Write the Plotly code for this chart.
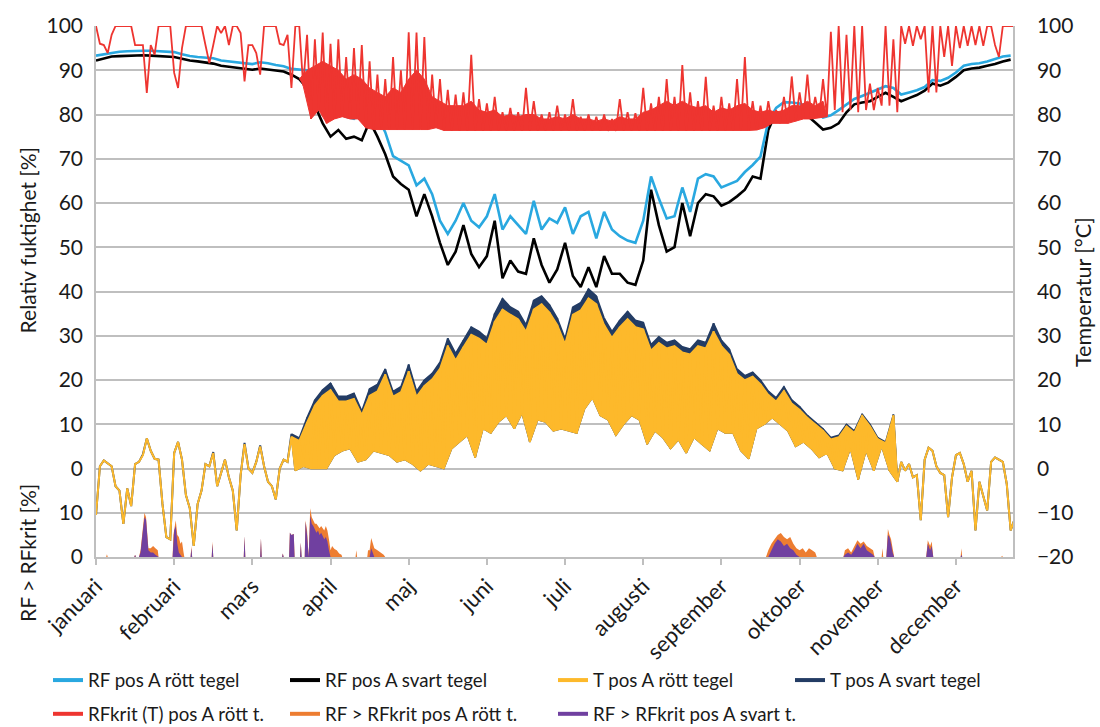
import plotly.graph_objects as go

# ---------------- data ----------------
months = ["januari", "februari", "mars", "april", "maj", "juni", "juli",
          "augusti", "september", "oktober", "november", "december"]
X_END = 11.73          # end of the record, in month units
STEP = 0.1             # sampling step of the series below, in months

# Relative humidity [%], one value per step
rf_rott = [93.3, 93.6, 94.0, 94.2, 94.3, 94.4, 94.4, 94.4, 94.3, 94.2,
           94.1, 93.6, 93.2, 93.0, 92.9, 92.7, 92.2, 92.0, 91.8, 91.6,
           91.4, 91.8, 91.6, 91.2, 90.9, 90.3, 90.1, 90.0, 88.5, 86.0,
           82.0, 80.5, 79.5, 79.0, 80.5, 81.5, 79.5, 76.0, 70.6, 69.5,
           68.5, 64.0, 65.5, 62.0, 56.0, 53.0, 56.0, 60.0, 56.0, 54.5,
           57.0, 62.0, 54.0, 57.0, 55.0, 53.0, 60.5, 54.0, 56.5, 55.5,
           59.0, 53.0, 57.0, 58.0, 52.0, 58.0, 54.0, 52.5, 51.5, 51.0,
           56.0, 66.0, 61.0, 56.5, 57.0, 63.5, 58.0, 65.5, 66.5, 66.0,
           63.5, 64.2, 65.0, 67.0, 68.6, 70.5, 78.5, 81.5, 82.8, 82.7,
           82.5, 81.8, 80.7, 79.3, 79.8, 81.0, 82.3, 83.5, 84.2, 84.9,
           85.7, 86.4, 86.0, 84.5, 85.0, 85.5, 86.2, 87.8, 87.6, 88.3,
           89.5, 91.0, 91.4, 91.6, 92.0, 92.5, 93.1, 93.3]

rf_svart = [92.2, 92.6, 93.1, 93.2, 93.3, 93.3, 93.4, 93.3, 93.2, 93.1,
            93.0, 92.6, 92.2, 92.0, 91.8, 91.5, 91.0, 90.8, 90.6, 90.3,
            90.1, 90.4, 90.2, 89.9, 89.7, 89.0, 88.0, 86.0, 82.0, 78.0,
            75.0, 76.5, 74.5, 75.0, 74.2, 78.5, 75.0, 71.0, 66.0, 64.3,
            63.0, 57.0, 62.0, 57.0, 51.0, 46.0, 49.0, 55.0, 48.5, 45.5,
            48.0, 56.0, 43.0, 47.0, 44.5, 44.0, 52.0, 46.0, 42.0, 45.0,
            51.0, 43.5, 41.0, 45.5, 41.0, 48.0, 44.0, 44.0, 42.0, 41.5,
            47.0, 63.0, 55.0, 49.0, 50.0, 60.0, 52.5, 60.0, 62.0, 61.5,
            59.4, 60.2, 61.5, 63.0, 66.0, 65.5, 76.5, 80.5, 80.0, 79.8,
            79.8, 79.7, 78.2, 76.6, 77.0, 78.0, 80.5, 82.3, 82.7, 83.0,
            84.0, 84.9, 84.0, 83.0, 83.7, 84.4, 85.4, 87.0, 86.5, 87.2,
            88.5, 90.0, 90.4, 90.6, 91.0, 91.4, 92.0, 92.4]

# RFkrit(T): sample at start of each step (hi) and at mid-step (lo)
rfkrit_hi = [100, 95.7, 98, 100, 100, 95.7, 95.7, 95.7, 100, 100,
             89.4, 95, 100, 100, 95.7, 95.7, 98.4, 95.7, 100, 87.5,
             95.7, 89, 100, 100, 95.7, 86, 100, 98, 97, 98.5,
             96, 97, 93, 95, 95.7, 92, 89, 88, 93, 90,
             98.6, 98.5, 97.5, 89, 88, 85.6, 84.5, 85, 93.5, 83.5,
             82.5, 84, 80.5, 81.5, 80.5, 86, 83, 80, 80.5, 82,
             80, 83.5, 79.5, 80, 79.5, 80, 79, 83.5, 80.5, 80.3,
             86, 82.5, 84, 88, 84, 91.2, 85, 83, 88.5, 82,
             84, 82.5, 88, 93, 83, 82, 83, 81, 84, 88.6,
             85, 89, 84, 88, 98.7, 100, 98, 100, 100, 87,
             86, 100, 97, 100, 100, 100, 100, 100, 100, 100,
             100, 100, 100, 100, 100, 95.7, 100, 100]
rfkrit_lo = [96, 93.9, 100, 100, 100, 95.7, 84.9, 93.5, 100, 100,
             86, 100, 100, 100, 91.6, 100, 100, 100, 98.4, 95.7,
             93.9, 100, 100, 96, 98, 100, 86.5, 79, 81, 78,
             79, 79.5, 79, 79, 77, 76.6, 76.6, 76.6, 76.6, 76.6,
             76.6, 76.6, 76.6, 77, 76.4, 76.3, 76.3, 76.3, 76.3, 76.3,
             76.3, 76.3, 76.3, 76.3, 76.3, 76.3, 76.3, 76.3, 76.3, 76.3,
             76.3, 76.3, 76.3, 76.3, 76.3, 76.3, 76.3, 76.3, 76.3, 76.3,
             76.3, 76.3, 76.3, 76.3, 76.3, 76.3, 76.3, 76.3, 76.3, 76.3,
             76.4, 76.4, 76.4, 76.4, 76.5, 77, 78, 78, 78, 78.5,
             79, 79, 79.3, 79.5, 81, 80.5, 81, 80.5, 81, 81,
             82, 82, 80.5, 96, 95.5, 97, 85, 85, 93, 91,
             95, 95.5, 95.7, 95.5, 100, 93, 100, 100]
# top of the densely filled part of RFkrit, steps 26..93 (mid-Mar .. Oct)
RFKRIT_DENSE_FIRST = 26
rfkrit_dense = [88, 90, 91, 92, 91, 90, 88, 89, 88, 86,
                85, 84, 86, 85, 88, 90, 88, 84, 83, 82,
                82, 82, 83, 81, 80.5, 81, 79.5, 80, 79.5, 80,
                80, 79, 79, 79.5, 79, 80, 79, 79, 78.5, 79,
                78.5, 79.5, 79, 79, 80.5, 81, 82, 83, 82, 83,
                82, 81.5, 82, 80.5, 81.5, 81, 82, 82.5, 81, 80.5,
                81, 80.5, 81, 82, 82, 83, 82, 83]

# Temperature [°C]: hi sample (start of step) and lo sample (mid-step)
t_svart_hi = [-10.5, 1.8, 0.5, -5, -4.5, 1, 3.2, 4, 2, -15.5,
              3.5, 2, -9, -8, 1, 3.7, -1, -2, -14, 5.8,
              -1, 5.2, -3, -7, 2, 7.8, 6.9, 11.5, 15.5, 17.8,
              19.3, 16.3, 16.3, 17, 13, 18, 19, 22.5, 17.4, 18.5,
              23.5, 17.5, 20, 21.5, 24, 29.4, 26, 29, 32, 31,
              29.5, 35, 38.4, 36.5, 35.5, 32.5, 38, 39, 37, 34,
              29.4, 36.5, 37.5, 40.6, 39, 34, 31, 33.5, 35.5, 33.5,
              33, 28, 29.8, 28.5, 29, 27.5, 27, 29, 28.5, 32.8,
              29, 27, 22.5, 21, 21.8, 20, 17.5, 16, 18.5, 15.5,
              14, 12, 10.5, 9, 7, 7.5, 10, 8.5, 12.3, 10,
              7, 6, 12.2, 1.5, 1, -1.5, 2, 4, -1, -11,
              3, 1, -0.5, -3, -9.5, 2.5, 1.5, -14]
t_rott_hi = [-10.5, 1.8, 0.5, -5, -4.5, 1, 3, 4, 2, -15.5,
             3.5, 2, -9, -8, 1, 3.5, -1, -2, -14, 5.5,
             -1, 5, -3, -7, 2, 7.2, 6.3, 10.5, 14.3, 16.5,
             17.8, 15.2, 15.2, 15.8, 12.2, 16.5, 17.5, 21.3, 16.3, 17.3,
             22, 16.3, 18.7, 20.2, 22.6, 27.8, 24.5, 27.5, 30.3, 29.4,
             28, 33.2, 36, 34.8, 33.8, 31, 36, 37.2, 35.3, 32.5,
             28.2, 34.8, 35.8, 38.5, 37.2, 32.5, 29.6, 32, 33.8, 32,
             31.5, 26.7, 28.4, 27.2, 27.7, 26.3, 25.8, 27.7, 27.2, 31,
             27.7, 25.8, 21.4, 20, 20.8, 19.1, 16.7, 15.2, 17.6, 14.7,
             13.3, 11.5, 10, 8.6, 6.6, 7.1, 9.6, 8.1, 12, 9.6,
             6.7, 5.8, 12, 1.5, 1, -1.5, 2, 4, -1, -11,
             3, 1, -0.5, -3, -9.5, 2.5, 1.5, -14]
t_lo = [0.5, 1.2, -4, -12.5, -8.5, 1.5, 6.8, 2.2, -8, -16,
        6, -6, -17.5, -5, 0.5, -4, 2, -5, -1.5, 0,
        1.5, 0.5, -4, 0, 1.5, -0.5, 0.5, 0, 0, 0,
        3, 4, 4.5, 1.5, 2, 4, 3.5, 3, 1.5, 2,
        1, -0.5, 1, 0.5, 0, 4.5, 6, 7.5, 2.5, 9,
        8, 10.5, 12, 9, 12.5, 6, 11, 10.5, 8.5, 9,
        8.5, 8, 13.5, 16, 12, 11, 7.5, 10, 12, 11,
        5.5, 8.5, 7, 4.5, 6.5, 3.5, 7, 5.5, 4, 9,
        8, 8, 4, 2.2, 9, 10, 11.5, 10, 8.5, 5,
        6, 4.5, 2.5, 3.5, 0, -0.5, 4.5, -2.5, 4, -0.5,
        5, -0.5, -3, -0.5, -2, -11.7, 4.7, 0.5, -1.5, -2,
        3.5, -3, -14, -6, 1.5, 2, -3.5, -11.5]
T_BAND_FIRST, T_BAND_LAST = 25, 102   # steps with a wide daily swing

# RF > RFkrit [%] (event samples)
exc_month = [0.0, 0.13, 0.14, 0.15, 0.49, 0.5, 0.51,
             0.55, 0.57, 0.6, 0.62, 0.64, 0.66, 0.67, 0.7, 0.73, 0.76, 0.79, 0.8,
             0.98, 0.99, 1.0, 1.02, 1.04, 1.06, 1.08, 1.1, 1.12, 1.13,
             1.21, 1.22, 1.23, 1.48, 1.49, 1.5, 1.89, 1.9, 1.91,
             2.1, 2.11, 2.12, 2.38, 2.39, 2.4, 2.47, 2.48, 2.5, 2.53, 2.54,
             2.61, 2.62, 2.63, 2.67, 2.68, 2.7, 2.72,
             2.74, 2.76, 2.78, 2.8, 2.82, 2.84, 2.86, 2.88, 2.9, 2.92,
             2.94, 2.96, 2.98, 3.0, 3.02, 3.05, 3.08, 3.11, 3.14, 3.15,
             3.32, 3.33, 3.34,
             3.47, 3.48, 3.5, 3.52, 3.54, 3.56, 3.6, 3.64, 3.68, 3.7,
             8.57, 8.6, 8.64, 8.68, 8.72, 8.76, 8.8, 8.84, 8.88, 8.92,
             8.96, 9.0, 9.04, 9.08, 9.12, 9.16, 9.2, 9.22,
             9.56, 9.58, 9.62, 9.66, 9.7, 9.74, 9.78, 9.82, 9.86, 9.9, 9.94, 9.96,
             10.05, 10.06, 10.07, 10.11, 10.13, 10.15, 10.17, 10.19, 10.21,
             10.62, 10.64, 10.67, 10.69, 10.71,
             11.06, 11.07, 11.08, 11.58, 11.59, 11.6, 11.73]
exc_rott = [0, 0, 0.6, 0, 0, 0.5, 0,
            0, 1.5, 7, 10, 9, 4, 2, 2, 2.5, 2, 1.5, 0,
            0, 5, 6, 8.3, 5, 4.5, 3, 3.5, 1, 0,
            0, 2.5, 0, 0, 3.5, 0, 0, 4.7, 0,
            0, 4.2, 0, 0, 0.8, 0, 0, 5.5, 5, 5.2, 0,
            0, 3.2, 0, 0, 8.3, 6, 0,
            11, 9, 8, 7.5, 7.5, 7, 6.5, 7, 6.5, 6,
            7, 6, 4, 1.5, 2.5, 1.8, 1.5, 0.8, 0.5, 0,
            0, 1.5, 0,
            0, 1.5, 1.5, 4.3, 3, 2, 1.5, 1, 0.5, 0,
            0, 1.5, 3, 4, 5, 5.4, 4.5, 4, 4.5, 3,
            2, 1.5, 2, 1, 2, 1.5, 1, 0,
            0, 1.5, 2, 1, 2.5, 3.8, 3, 3.5, 2.5, 2, 1.5, 0,
            0, 2, 0, 0, 6.3, 5, 4, 2, 0,
            0, 3.8, 2.5, 3.5, 0,
            0, 2, 0, 0, 0.3, 0, 0]
exc_svart = [0, 0, 0, 0, 0, 0.5, 0,
             0, 1, 6, 9, 8.5, 3, 1.5, 1, 1, 0.5, 0, 0,
             0, 5, 6, 7, 3, 1, 0.5, 0, 0, 0,
             0, 2, 0, 0, 3, 0, 0, 4.7, 0,
             0, 4.2, 0, 0, 0.8, 0, 0, 5.5, 5, 5.2, 0,
             0, 3.2, 0, 0, 8, 5, 0,
             9.4, 7.5, 7, 6, 5.5, 6, 5, 5.5, 4.5, 4,
             4.5, 3.5, 1.5, 0, 0, 0, 0, 0, 0, 0,
             0, 0, 0,
             0, 0, 0, 2, 1, 0, 0, 0, 0, 0,
             0, 0, 1.5, 3, 4, 3.5, 2.5, 3, 2, 1.5,
             0.5, 0, 0, 0, 0, 0, 0, 0,
             0, 0.5, 1, 0.5, 1.5, 3, 2, 3, 1.5, 1, 0.5, 0,
             0, 0, 0, 0, 5, 4.5, 3, 1, 0,
             0, 3, 1.5, 2.5, 0,
             0, 0.5, 0, 0, 0, 0, 0]

# ---------------- styling ----------------
C_BLUE = "#29A8E0"
C_BLACK = "#000000"
C_YELLOW = "#FDB92B"
C_NAVY = "#233C64"
C_RED = "#EE3530"
C_ORANGE = "#ED7D31"
C_PURPLE = "#7040A0"
C_GRID = "#BFBFBF"
FONT = "Lato"
TXT = "#1a1a1a"

step_x = [i * STEP for i in range(len(rf_rott))]


def interleave(hi, lo):
    """hi sample at the start of each step, lo sample at mid-step."""
    xs, ys = [], []
    for i, (a, b) in enumerate(zip(hi, lo)):
        xs += [i * STEP, i * STEP + STEP / 2]
        ys += [a, b]
    return xs, ys


def band(top, bottom, first):
    """Closed outline: top samples forward, bottom samples backward."""
    idx = range(first, first + len(top))
    xs = [i * STEP for i in idx] + [i * STEP + STEP / 2 for i in reversed(idx)]
    ys = list(top) + list(reversed(bottom))
    return xs, ys


fig = go.Figure()

# relative humidity
fig.add_trace(go.Scatter(x=step_x, y=rf_svart, mode="lines", yaxis="y",
                         line=dict(color=C_BLACK, width=2.6), showlegend=False))
fig.add_trace(go.Scatter(x=step_x, y=rf_rott, mode="lines", yaxis="y",
                         line=dict(color=C_BLUE, width=2.6), showlegend=False))
n_dense = len(rfkrit_dense)
bx, by = band(rfkrit_dense,
              rfkrit_lo[RFKRIT_DENSE_FIRST:RFKRIT_DENSE_FIRST + n_dense],
              RFKRIT_DENSE_FIRST)
fig.add_trace(go.Scatter(x=bx, y=by, mode="lines", yaxis="y", fill="toself",
                         fillcolor=C_RED, line=dict(color=C_RED, width=1),
                         showlegend=False))
xr, yr = interleave(rfkrit_hi, rfkrit_lo)
fig.add_trace(go.Scatter(x=xr, y=yr, mode="lines", yaxis="y",
                         line=dict(color=C_RED, width=1.8), showlegend=False))

# temperature
s = slice(T_BAND_FIRST, T_BAND_LAST + 1)
for hi, col in ((t_svart_hi, C_NAVY), (t_rott_hi, C_YELLOW)):
    bx, by = band(hi[s], t_lo[s], T_BAND_FIRST)
    fig.add_trace(go.Scatter(x=bx, y=by, mode="lines", yaxis="y2",
                             fill="toself", fillcolor=col,
                             line=dict(color=col, width=1.5), showlegend=False))
    zx, zy = interleave(hi, t_lo)
    fig.add_trace(go.Scatter(x=zx, y=zy, mode="lines", yaxis="y2",
                             line=dict(color=col, width=2), showlegend=False))

# RF > RFkrit (filled, no outline so nothing is drawn along the zero line)
fig.add_trace(go.Scatter(x=exc_month, y=exc_rott, mode="lines", yaxis="y3",
                         fill="tozeroy", fillcolor=C_ORANGE,
                         line=dict(color=C_ORANGE, width=0), showlegend=False))
fig.add_trace(go.Scatter(x=exc_month, y=exc_svart, mode="lines", yaxis="y3",
                         fill="tozeroy", fillcolor=C_PURPLE,
                         line=dict(color=C_PURPLE, width=0), showlegend=False))

left_vals = list(range(-20, 101, 10))
left_text = ["0", "10"] + [str(v) for v in range(0, 101, 10)]

# plot-area geometry in pixels (for legend/title placement)
W, H = 1100, 727
ML, MR, MT, MB = 96, 87, 22, 170
PW, PH = W - ML - MR, H - MT - MB


def px(xp):
    return (xp - ML) / PW


def py(yp):
    return (H - MB - yp) / PH


fig.update_layout(
    width=W, height=H,
    margin=dict(l=ML, r=MR, t=MT, b=MB),
    paper_bgcolor="white", plot_bgcolor="white",
    font=dict(family=FONT, color=TXT, size=18),
    xaxis=dict(range=[0, X_END], tickvals=list(range(12)), ticktext=months,
               tickangle=-45, ticks="outside", ticklen=6, tickcolor=C_GRID,
               tickwidth=1.5, showline=True, linecolor=C_GRID, linewidth=1.5,
               showgrid=False, zeroline=False, tickfont=dict(size=22)),
    yaxis=dict(range=[-20, 100], tickvals=left_vals, ticktext=left_text,
               showgrid=True, gridcolor=C_GRID, gridwidth=1.5,
               showline=True, linecolor=C_GRID, linewidth=1.5, zeroline=False,
               ticks="", ticklabelstandoff=7, tickfont=dict(size=21)),
    yaxis2=dict(range=[-20, 100], tickvals=left_vals, overlaying="y",
                side="right", showgrid=False, showline=True, linecolor=C_GRID,
                linewidth=1.5, zeroline=False, ticks="", ticklabelstandoff=18,
                tickfont=dict(size=21)),
    yaxis3=dict(range=[0, 120], overlaying="y", visible=False),
)

annotations = [
    dict(text="Relativ fuktighet [%]", x=px(27), y=py(238), textangle=-90,
         xanchor="center", yanchor="middle", showarrow=False,
         xref="paper", yref="paper", font=dict(size=21)),
    dict(text="RF > RFkrit [%]", x=px(27), y=py(553), textangle=-90,
         xanchor="center", yanchor="middle", showarrow=False,
         xref="paper", yref="paper", font=dict(size=21)),
    dict(text="Temperatur [°C]", x=px(1083), y=py(290), textangle=-90,
         xanchor="center", yanchor="middle", showarrow=False,
         xref="paper", yref="paper", font=dict(size=21.5)),
]

legend_items = [
    ("RF pos A rött tegel", C_BLUE, 53, 681),
    ("RF pos A svart tegel", C_BLACK, 290, 681),
    ("T pos A rött tegel", C_YELLOW, 558, 681),
    ("T pos A svart tegel", C_NAVY, 795, 681),
    ("RFkrit (T) pos A rött t.", C_RED, 53, 715),
    ("RF > RFkrit pos A rött t.", C_ORANGE, 290, 715),
    ("RF > RFkrit pos A svart t.", C_PURPLE, 558, 715),
]
shapes = []
for label, col, x0, y0 in legend_items:
    shapes.append(dict(type="line", xref="paper", yref="paper",
                       x0=px(x0), x1=px(x0 + 30), y0=py(y0), y1=py(y0),
                       line=dict(color=col, width=4)))
    annotations.append(dict(text=label, x=px(x0 + 33), y=py(y0),
                            xanchor="left", yanchor="middle", showarrow=False,
                            xref="paper", yref="paper", font=dict(size=18.7)))

fig.update_layout(annotations=annotations, shapes=shapes)

fig.write_html("out.html")
